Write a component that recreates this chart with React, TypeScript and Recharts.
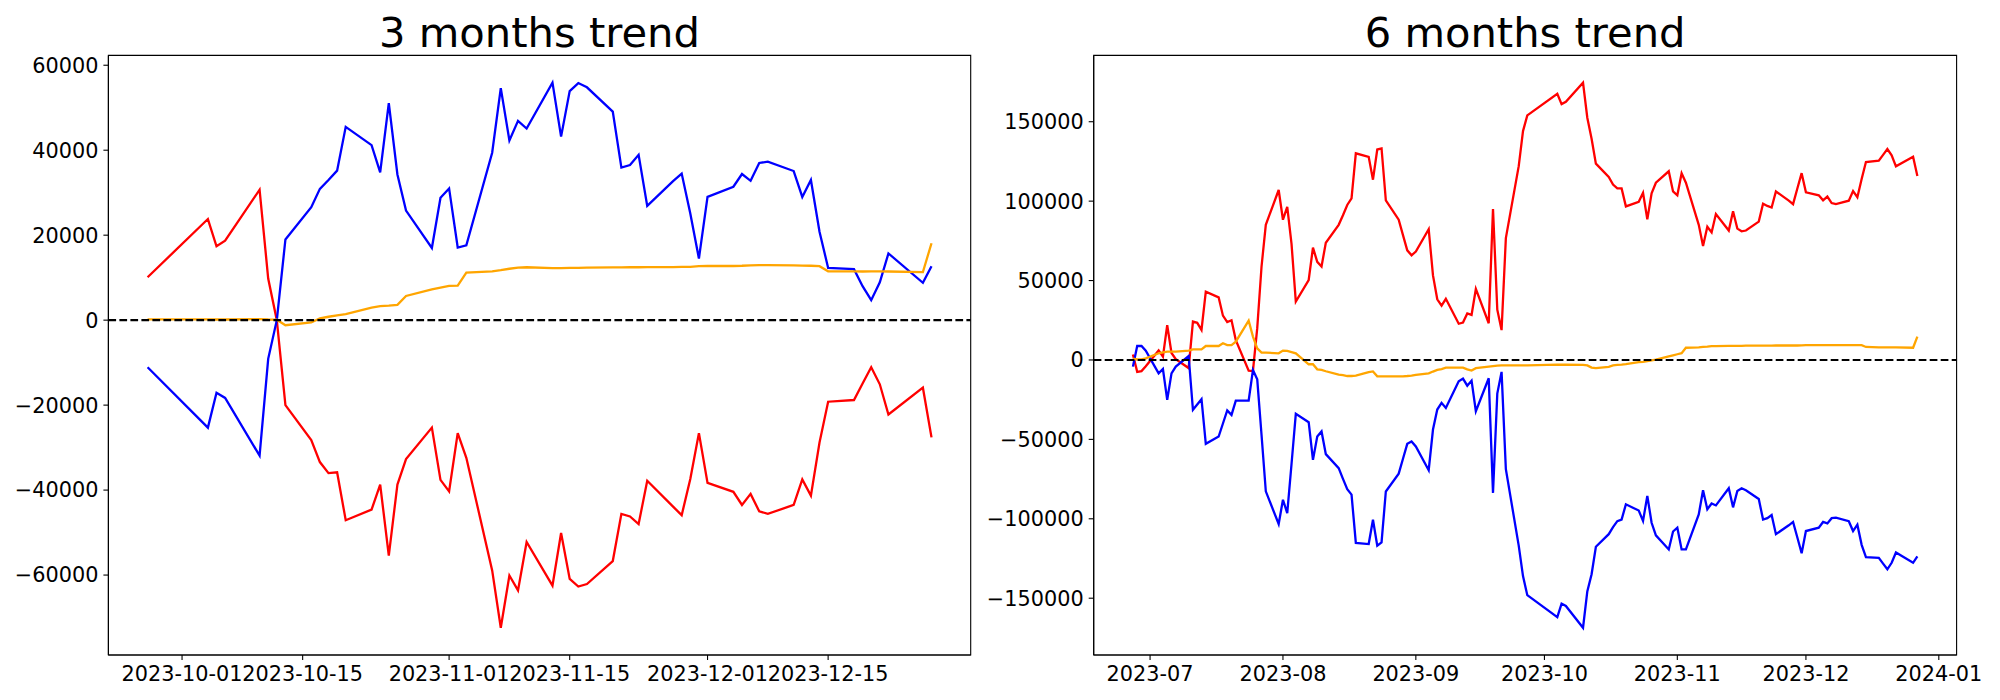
import React from 'react';
import { LineChart, Line, XAxis, YAxis, ReferenceLine, ReferenceArea } from 'recharts';

const FONT = '"DejaVu Sans", sans-serif';

// 3 months panel
const days3m = [
  '2023-09-27', '2023-10-04', '2023-10-05', '2023-10-06',
  '2023-10-10', '2023-10-11', '2023-10-12', '2023-10-13',
  '2023-10-16', '2023-10-17', '2023-10-18', '2023-10-19', '2023-10-20',
  '2023-10-23', '2023-10-24', '2023-10-25', '2023-10-26', '2023-10-27',
  '2023-10-30', '2023-10-31', '2023-11-01', '2023-11-02', '2023-11-03',
  '2023-11-06', '2023-11-07', '2023-11-08', '2023-11-09', '2023-11-10',
  '2023-11-13', '2023-11-14', '2023-11-15', '2023-11-16', '2023-11-17',
  '2023-11-20', '2023-11-21', '2023-11-22', '2023-11-23', '2023-11-24',
  '2023-11-27', '2023-11-28', '2023-11-29', '2023-11-30', '2023-12-01',
  '2023-12-04', '2023-12-05', '2023-12-06', '2023-12-07', '2023-12-08',
  '2023-12-11', '2023-12-12', '2023-12-13', '2023-12-14', '2023-12-15',
  '2023-12-18', '2023-12-19', '2023-12-20', '2023-12-21', '2023-12-22',
  '2023-12-26', '2023-12-27',
];
const red3m = [
  10100, 23800, 17400, 18700,
  30700, 9800, 0, -20000,
  -28200, -33400, -36000, -35800, -47100,
  -44600, -38700, -55400, -38700, -32700,
  -25300, -37600, -40300, -26600, -32400,
  -58900, -72400, -60100, -63600, -52200,
  -62500, -50100, -60900, -62700, -62100,
  -56700, -45600, -46200, -48000, -37800,
  -43900, -45900, -37400, -26600, -38300,
  -40400, -43500, -40900, -45000, -45600,
  -43500, -37500, -41300, -28800, -19200,
  -18800, -14900, -11100, -15100, -22200,
  -15900, -27600,
];
const blue3m = [
  -11100, -25300, -17100, -18300,
  -31900, -9100, 0, 19000,
  26600, 30900, 33000, 35200, 45500,
  41200, 34800, 51100, 34300, 25800,
  17000, 28800, 31000, 17100, 17600,
  39400, 54600, 42300, 46900, 45100,
  55900, 43200, 53900, 55800, 54800,
  49100, 35900, 36500, 38900, 26900,
  32700, 34500, 25100, 14500, 29000,
  31400, 34400, 32800, 37000, 37300,
  35100, 29000, 33000, 20800, 12300,
  12000, 8000, 4700, 8900, 15700,
  8800, 12700,
];
const orange3m = [
  200, 200, 150, 150,
  250, 150, 100, -1200,
  -550, 400, 800, 1150, 1400,
  2950, 3300, 3400, 3600, 5700,
  7250, 7650, 8050, 8150, 11200,
  11500, 11750, 12100, 12350, 12450,
  12250, 12250, 12300, 12300, 12350,
  12400, 12400, 12450, 12450, 12500,
  12500, 12550, 12550, 12700, 12750,
  12750, 12800, 12900, 12950, 12950,
  12900, 12850, 12800, 12700, 11500,
  11500, 11450, 11500, 11500, 11450,
  11300, 18100,
];
const xTicks3m = ['2023-10-01', '2023-10-15', '2023-11-01', '2023-11-15', '2023-12-01', '2023-12-15'];
const yTicks3m = [-60000, -40000, -20000, 0, 20000, 40000, 60000];

// 6 months panel
const days6m = [
  '2023-06-27', '2023-06-28', '2023-06-29', '2023-06-30',
  '2023-07-03', '2023-07-04', '2023-07-05', '2023-07-06', '2023-07-07',
  '2023-07-10', '2023-07-11', '2023-07-12', '2023-07-13', '2023-07-14',
  '2023-07-17', '2023-07-18', '2023-07-19', '2023-07-20', '2023-07-21',
  '2023-07-24', '2023-07-25', '2023-07-26', '2023-07-27', '2023-07-28',
  '2023-07-31', '2023-08-01', '2023-08-02', '2023-08-03', '2023-08-04',
  '2023-08-07', '2023-08-08', '2023-08-09', '2023-08-10', '2023-08-11',
  '2023-08-14', '2023-08-15', '2023-08-16', '2023-08-17', '2023-08-18',
  '2023-08-21', '2023-08-22', '2023-08-23', '2023-08-24', '2023-08-25',
  '2023-08-28', '2023-08-29', '2023-08-30', '2023-08-31', '2023-09-01',
  '2023-09-04', '2023-09-05', '2023-09-06', '2023-09-07', '2023-09-08',
  '2023-09-11', '2023-09-12', '2023-09-13', '2023-09-14', '2023-09-15',
  '2023-09-18', '2023-09-19', '2023-09-20', '2023-09-21', '2023-09-22',
  '2023-09-25', '2023-09-26', '2023-09-27',
  '2023-10-04', '2023-10-05', '2023-10-06',
  '2023-10-10', '2023-10-11', '2023-10-12', '2023-10-13',
  '2023-10-16', '2023-10-17', '2023-10-18', '2023-10-19', '2023-10-20',
  '2023-10-23', '2023-10-24', '2023-10-25', '2023-10-26', '2023-10-27',
  '2023-10-30', '2023-10-31', '2023-11-01', '2023-11-02', '2023-11-03',
  '2023-11-06', '2023-11-07', '2023-11-08', '2023-11-09', '2023-11-10',
  '2023-11-13', '2023-11-14', '2023-11-15', '2023-11-16', '2023-11-17',
  '2023-11-20', '2023-11-21', '2023-11-22', '2023-11-23', '2023-11-24',
  '2023-11-27', '2023-11-28', '2023-11-29', '2023-11-30', '2023-12-01',
  '2023-12-04', '2023-12-05', '2023-12-06', '2023-12-07', '2023-12-08',
  '2023-12-11', '2023-12-12', '2023-12-13', '2023-12-14', '2023-12-15',
  '2023-12-18', '2023-12-19', '2023-12-20', '2023-12-21', '2023-12-22',
  '2023-12-26', '2023-12-27',
];
const red6m = [
  3400, -7500, -7000, -4000,
  6000, 2100, 21900, 4400, 500,
  -5100, 24200, 23400, 18900, 43000,
  39400, 27900, 23800, 25000, 12500,
  -6700, -6900, 20000, 58700, 85100,
  107000, 88300, 96400, 73100, 36800,
  50300, 70700, 61800, 58900, 73800,
  85100, 91100, 97600, 101700, 130100,
  127900, 113500, 132500, 133200, 100500,
  88300, 78600, 69000, 65900, 68300,
  82300, 53200, 38200, 34200, 38500,
  22800, 23600, 29300, 28400, 44700,
  23100, 95000, 31700, 18800, 76700,
  122000, 144100, 154000,
  167600, 161100, 162600,
  174600, 152500, 139300, 123600,
  115200, 110400, 108000, 108000, 96700,
  99600, 105300, 88500, 104900, 111600,
  118800, 106100, 103700, 117600, 111600,
  85100, 71700, 83900, 80300, 91900,
  81500, 93600, 82700, 81000, 81500,
  87100, 98400, 97000, 96000, 106100,
  100300, 98100, 108000, 117600, 105600,
  103700, 100500, 102900, 98800, 98100,
  100300, 106300, 102500, 114000, 124600,
  125500, 129100, 132800, 128900, 121900,
  127900, 115900,
];
const blue6m = [
  -4200, 8800, 8800, 5900,
  -8400, -5700, -25100, -8400, -4200,
  2500, -31400, -28000, -24700, -52800,
  -48200, -40000, -31800, -34600, -25600,
  -25600, -6300, -12200, -47100, -82700,
  -103300, -88000, -96400, -65500, -33900,
  -39200, -62900, -48200, -45000, -59300,
  -68100, -74900, -81300, -84800, -115200,
  -115900, -100600, -116900, -114800, -82800,
  -71600, -62200, -52800, -51300, -54500,
  -69400, -43800, -31200, -27000, -30200,
  -13400, -11700, -16200, -13000, -32300,
  -11500, -83700, -21200, -7500, -68800,
  -116900, -136100, -148100,
  -161900, -153400, -154900,
  -168600, -145700, -134900, -117600,
  -109700, -105300, -101500, -100500, -90900,
  -94800, -101300, -85600, -102500, -110400,
  -119300, -108000, -105600, -119300, -119300,
  -97200, -82000, -94000, -90400, -91600,
  -80800, -92800, -82500, -80800, -82000,
  -87500, -100500, -99600, -97600, -109700,
  -104100, -102000, -111800, -121700, -107700,
  -105600, -102000, -102900, -99600, -99300,
  -101500, -107700, -103700, -116400, -124100,
  -124600, -128200, -131800, -127700, -121200,
  -127700, -123600,
];
const orange6m = [
  800, 300, 300, 1000,
  4200, 4800, 5200, 5200, 5200,
  5900, 6700, 6700, 6700, 8800,
  8800, 10500, 9400, 9400, 11500,
  24700, 14700, 7300, 4600, 4600,
  4200, 5900, 5700, 5000, 4200,
  -2700, -2700, -5900, -6300, -7100,
  -9200, -9600, -10100, -10100, -9900,
  -7700, -7200, -10300, -10300, -10300,
  -10300, -10300, -10100, -9800, -9400,
  -8400, -7300, -6300, -5700, -4800,
  -4800, -4800, -5900, -6700, -5200,
  -4200, -3900, -3600, -3400, -3400,
  -3400, -3400, -3400,
  -2900, -3000, -3000,
  -3100, -3400, -4800, -5100,
  -4300, -3400, -3100, -2900, -2600,
  -1400, -1200, -700, -200, 200,
  2200, 2900, 3600, 4300, 7700,
  7900, 8200, 8400, 8700, 8700,
  8900, 8900, 8900, 8900, 9000,
  9000, 9000, 9000, 9000, 9100,
  9100, 9100, 9100, 9200, 9300,
  9300, 9300, 9400, 9400, 9400,
  9400, 9400, 9300, 9300, 8200,
  7900, 7900, 7900, 7900, 7900,
  7700, 14700,
];
const xTicks6m = ['2023-07-01', '2023-08-01', '2023-09-01', '2023-10-01', '2023-11-01', '2023-12-01', '2024-01-01'];
const yTicks6m = [-150000, -100000, -50000, 0, 50000, 100000, 150000];

type Row = { t: number; red: number; blue: number; orange: number };

const toRows = (days: string[], red: number[], blue: number[], orange: number[]): Row[] =>
  days.map((d, i) => ({ t: Date.parse(d), red: red[i], blue: blue[i], orange: orange[i] }));

// matplotlib style 5% auto margins
const padded = (lo: number, hi: number): [number, number] => {
  const m = (hi - lo) * 0.05;
  return [lo - m, hi + m];
};

const pad2 = (n: number) => String(n).padStart(2, '0');
const fmtDay = (t: number) => {
  const d = new Date(t);
  return `${d.getUTCFullYear()}-${pad2(d.getUTCMonth() + 1)}-${pad2(d.getUTCDate())}`;
};
const fmtMonth = (t: number) => {
  const d = new Date(t);
  return `${d.getUTCFullYear()}-${pad2(d.getUTCMonth() + 1)}`;
};
const fmtNum = (v: number) => (v < 0 ? '\u2212' + Math.abs(v) : String(v));

const tickStyle = { fill: '#000', fontSize: 20.8, fontFamily: FONT };
const axisLine = { stroke: '#000', strokeWidth: 1.1 };
const tickLine = { stroke: '#000', strokeWidth: 1.1 };
const LW = 2.3;

type PanelProps = {
  rows: Row[];
  xTicks: string[];
  xFmt: (t: number) => string;
  yTicks: number[];
  width: number;
  marginLeft: number;
  marginRight: number;
};

const TrendPanel = ({ rows, xTicks, xFmt, yTicks, width, marginLeft, marginRight }: PanelProps) => {
  const ts = rows.map(r => r.t);
  const xDom = padded(Math.min(...ts), Math.max(...ts));
  const vals = rows.flatMap(r => [r.red, r.blue, r.orange]);
  const yDom = padded(Math.min(...vals), Math.max(...vals));

  return (
    <LineChart
      width={width}
      height={700}
      data={rows}
      margin={{ top: 55.4, right: marginRight, bottom: 0, left: marginLeft }}
    >
      <XAxis
        dataKey="t"
        type="number"
        domain={xDom}
        allowDataOverflow
        ticks={xTicks.map(s => Date.parse(s))}
        tickFormatter={xFmt}
        interval={0}
        height={45}
        tickSize={5}
        tickMargin={6}
        axisLine={axisLine}
        tickLine={tickLine}
        tick={tickStyle}
      />
      <YAxis
        type="number"
        domain={yDom}
        allowDataOverflow
        ticks={yTicks}
        tickFormatter={fmtNum}
        interval={0}
        width={100}
        tickSize={5}
        tickMargin={5}
        axisLine={axisLine}
        tickLine={tickLine}
        tick={tickStyle}
      />
      {/* frame: top and right spines */}
      <ReferenceArea
        x1={xDom[0]}
        x2={xDom[1]}
        y1={yDom[0]}
        y2={yDom[1]}
        fill="none"
        fillOpacity={0}
        stroke="#000"
        strokeWidth={1.1}
        ifOverflow="visible"
      />
      <Line type="linear" dataKey="red" stroke="#ff0000" strokeWidth={LW} dot={false} isAnimationActive={false} />
      <Line type="linear" dataKey="blue" stroke="#0000ff" strokeWidth={LW} dot={false} isAnimationActive={false} />
      <Line type="linear" dataKey="orange" stroke="#ffa500" strokeWidth={LW} dot={false} isAnimationActive={false} />
      <ReferenceLine y={0} stroke="#000" strokeWidth={2.08} strokeDasharray="7.7 3.3" />
    </LineChart>
  );
};

export default function App() {
  const rows3m = toRows(days3m, red3m, blue3m, orange3m);
  const rows6m = toRows(days6m, red6m, blue6m, orange6m);

  return (
    <div style={{ position: 'fixed', left: 0, top: 0, width: 2000, height: 700, background: '#fff', overflow: 'hidden' }}>
      <div style={{ position: 'absolute', left: 0, top: 0 }}>
        <TrendPanel rows={rows3m} xTicks={xTicks3m} xFmt={fmtDay} yTicks={yTicks3m} width={980} marginLeft={8.4} marginRight={9.3} />
      </div>
      <div style={{ position: 'absolute', left: 985, top: 0 }}>
        <TrendPanel rows={rows6m} xTicks={xTicks6m} xFmt={fmtMonth} yTicks={yTicks6m} width={1015} marginLeft={8.7} marginRight={43.4} />
      </div>
      {/* titles */}
      <svg width={2000} height={700} style={{ position: 'absolute', left: 0, top: 0, pointerEvents: 'none' }}>
        <text x={539.5} y={47.1} textAnchor="middle" fontSize={41.67} fontFamily={FONT} fill="#000">
          3 months trend
        </text>
        <text x={1525.1} y={47.1} textAnchor="middle" fontSize={41.67} fontFamily={FONT} fill="#000">
          6 months trend
        </text>
      </svg>
    </div>
  );
}
